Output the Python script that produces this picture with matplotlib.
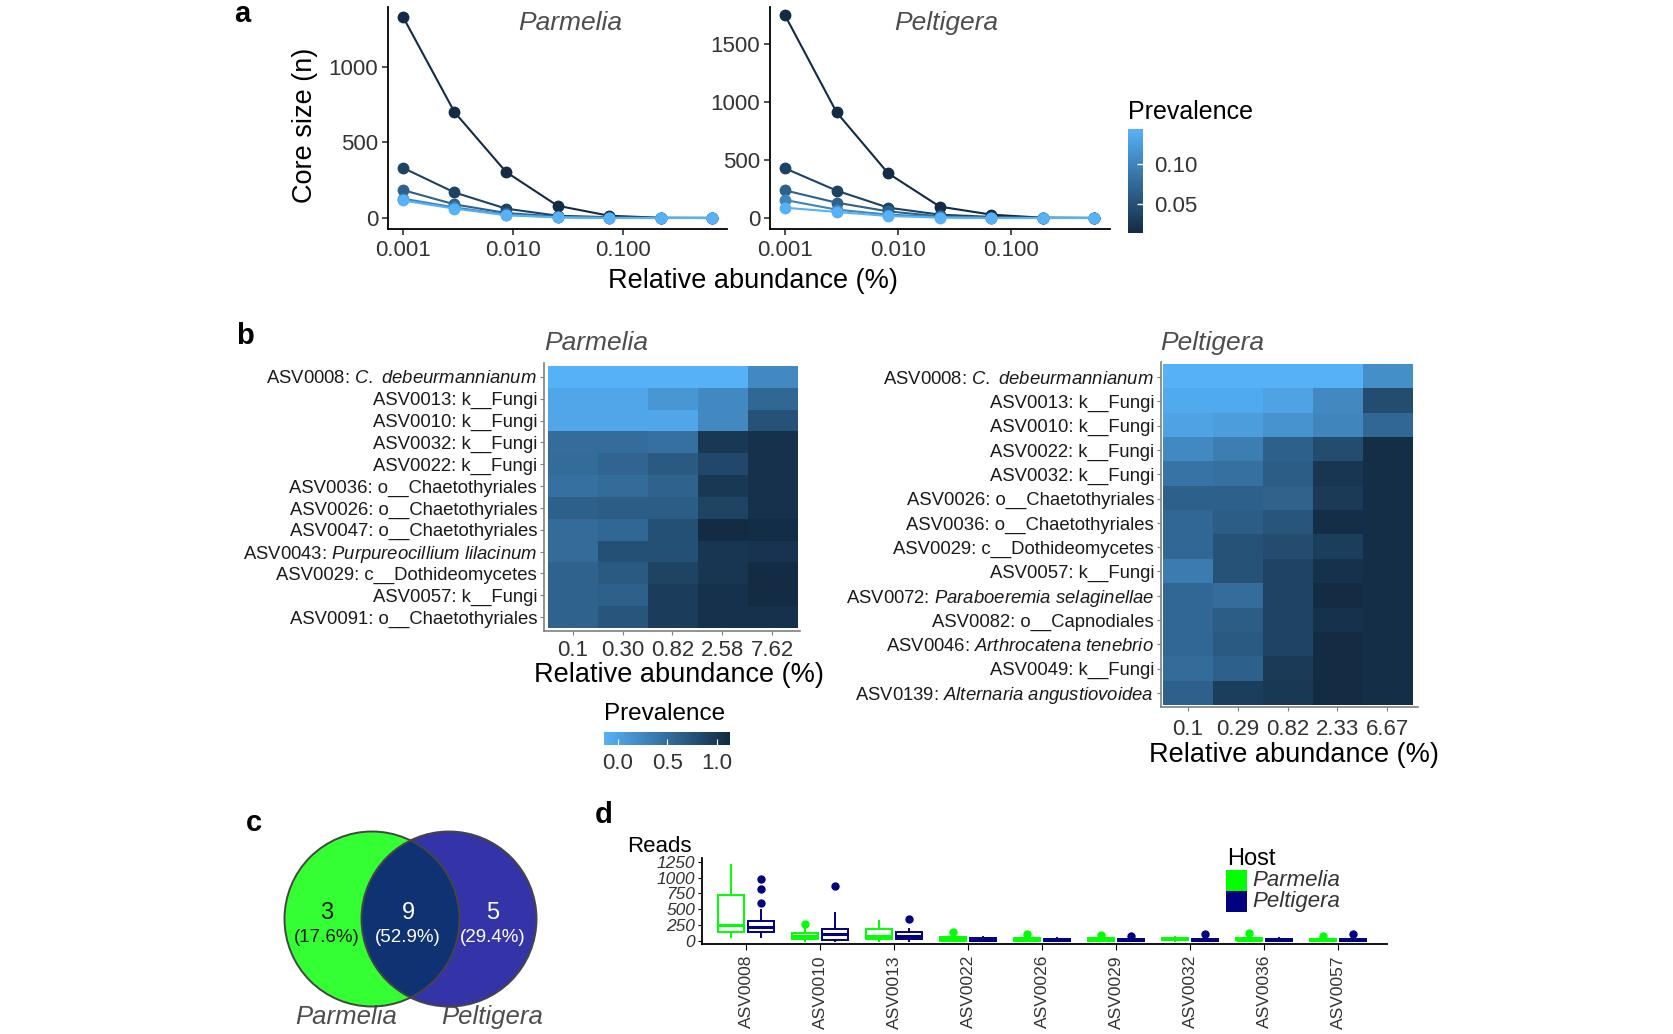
import numpy as np
import matplotlib
matplotlib.use("Agg")
import matplotlib.pyplot as plt
from matplotlib.colors import LinearSegmentedColormap, Normalize
from matplotlib.cm import ScalarMappable
from matplotlib.patches import Circle, Rectangle

plt.rcParams["font.family"] = ["Liberation Sans", "DejaVu Sans"]
plt.rcParams["mathtext.fontset"] = "custom"
plt.rcParams["mathtext.rm"] = "Liberation Sans"
plt.rcParams["mathtext.it"] = "Liberation Sans:italic"

# ---------------- data ----------------
# (a) core size vs detection threshold, one line per prevalence level
prevalence_levels = [0.014, 0.036, 0.066, 0.100, 0.144]
detection_parmelia = [0.001, 0.00294, 0.00864, 0.0254, 0.0747, 0.2197, 0.646]
detection_peltigera = [0.001, 0.00286, 0.00818, 0.0234, 0.0669, 0.191, 0.547]
core_parmelia = [
    [1332, 701, 305, 81, 15, 1, 0],
    [332, 169, 62, 15, 5, 0, 0],
    [185, 90, 33, 9, 2, 0, 0],
    [128, 70, 22, 5, 1, 0, 0],
    [116, 62, 18, 4, 0, 0, 0],
]
core_peltigera = [
    [1747, 911, 385, 98, 29, 2, 0],
    [428, 236, 89, 29, 9, 1, 0],
    [238, 132, 57, 14, 3, 0, 0],
    [155, 72, 29, 9, 1, 0, 0],
    [89, 52, 17, 3, 0, 0, 0],
]

# (b) core heatmaps
heat_det_parmelia = ["0.1", "0.30", "0.82", "2.58", "7.62"]
heat_det_peltigera = ["0.1", "0.29", "0.82", "2.33", "6.67"]
asv_parmelia = ["ASV0008", "ASV0013", "ASV0010", "ASV0032", "ASV0022", "ASV0036",
                "ASV0026", "ASV0047", "ASV0043", "ASV0029", "ASV0057", "ASV0091"]
taxon_parmelia = ["C. debeurmannianum", "k__Fungi", "k__Fungi", "k__Fungi", "k__Fungi",
                  "o__Chaetothyriales", "o__Chaetothyriales", "o__Chaetothyriales",
                  "Purpureocillium lilacinum", "c__Dothideomycetes", "k__Fungi",
                  "o__Chaetothyriales"]
species_parmelia = [True, False, False, False, False, False, False, False, True,
                    False, False, False]
prev_parmelia = [
    [0.00, 0.00, 0.00, 0.00, 0.30],
    [0.08, 0.08, 0.20, 0.30, 0.55],
    [0.08, 0.08, 0.08, 0.30, 0.70],
    [0.50, 0.50, 0.48, 0.90, 0.95],
    [0.52, 0.56, 0.65, 0.78, 0.95],
    [0.48, 0.52, 0.58, 0.90, 0.95],
    [0.60, 0.62, 0.62, 0.82, 0.95],
    [0.52, 0.55, 0.72, 1.00, 0.98],
    [0.52, 0.72, 0.72, 0.92, 0.93],
    [0.58, 0.65, 0.82, 0.92, 1.00],
    [0.58, 0.60, 0.87, 0.95, 1.00],
    [0.58, 0.68, 0.87, 0.95, 0.95],
]
asv_peltigera = ["ASV0008", "ASV0013", "ASV0010", "ASV0022", "ASV0032", "ASV0026",
                 "ASV0036", "ASV0029", "ASV0057", "ASV0072", "ASV0082", "ASV0046",
                 "ASV0049", "ASV0139"]
taxon_peltigera = ["C. debeurmannianum", "k__Fungi", "k__Fungi", "k__Fungi", "k__Fungi",
                   "o__Chaetothyriales", "o__Chaetothyriales", "c__Dothideomycetes",
                   "k__Fungi", "Paraboeremia selaginellae", "o__Capnodiales",
                   "Arthrocatena tenebrio", "k__Fungi", "Alternaria angustiovoidea"]
species_peltigera = [True, False, False, False, False, False, False, False, False,
                     True, False, True, False, True]
prev_peltigera = [
    [0.00, 0.00, 0.00, 0.00, 0.25],
    [0.05, 0.05, 0.10, 0.30, 0.75],
    [0.10, 0.15, 0.22, 0.32, 0.55],
    [0.30, 0.38, 0.60, 0.75, 0.97],
    [0.45, 0.48, 0.62, 0.92, 0.97],
    [0.60, 0.60, 0.58, 0.88, 0.97],
    [0.55, 0.62, 0.68, 0.97, 0.97],
    [0.55, 0.70, 0.75, 0.85, 0.97],
    [0.40, 0.70, 0.82, 0.95, 0.97],
    [0.55, 0.50, 0.82, 1.00, 0.97],
    [0.55, 0.62, 0.82, 0.95, 0.97],
    [0.55, 0.65, 0.82, 1.00, 0.97],
    [0.52, 0.60, 0.88, 1.00, 0.97],
    [0.60, 0.85, 0.90, 1.00, 0.97],
]

# (c) shared core taxa
venn_counts = [3, 9, 5]   # Parmelia only, shared, Peltigera only

# (d) read counts per core ASV (box statistics)
asv_reads = ["ASV0008", "ASV0010", "ASV0013", "ASV0022", "ASV0026",
             "ASV0029", "ASV0032", "ASV0036", "ASV0057"]
parm_lo = [54, 0, 0, 0, 0, 0, 0, 0, 0]
parm_q1 = [133, 22, 27, 2, 2, 1, 5, 5, 1]
parm_med = [248, 74, 80, 20, 10, 5, 20, 15, 5]
parm_q3 = [725, 117, 185, 55, 45, 40, 50, 50, 35]
parm_hi = [1198, 230, 311, 80, 60, 55, 55, 60, 45]
parm_out = [[], [270], [], [130], [100], [95], [], [115], [75]]
pelt_lo = [64, 0, 0, 0, 0, 0, 0, 0, 0]
pelt_q1 = [143, 11, 22, 2, 2, 2, 2, 2, 2]
pelt_med = [211, 100, 75, 15, 10, 10, 10, 10, 10]
pelt_q3 = [317, 185, 133, 40, 35, 35, 35, 35, 35]
pelt_hi = [486, 433, 185, 55, 45, 45, 50, 45, 55]
pelt_out = [[591, 818, 976], [865], [338], [], [], [80], [108], [], [110]]

# ---------------- figure ----------------
W, H = 1674, 1034
fig = plt.figure(figsize=(W / 100, H / 100), dpi=100)


def px_axes(x0, y0, x1, y1):
    return fig.add_axes([x0 / W, 1 - y1 / H, (x1 - x0) / W, (y1 - y0) / H])


# transparent overlay in pixel units for titles, legends and the Venn diagram
ov = px_axes(0, 0, W, H)
ov.set_xlim(0, W)
ov.set_ylim(H, 0)
ov.axis("off")
ov.set_zorder(10)

line_cmap = LinearSegmentedColormap.from_list("gg", ["#132B43", "#56B1F7"])
heat_cmap = LinearSegmentedColormap.from_list("ggr", ["#56B1F7", "#132B43"])
prev_norm = Normalize(vmin=min(prevalence_levels), vmax=max(prevalence_levels))
TICK_C = "#333333"
TITLE_C = "#4d4d4d"

# panel letters
for letter, x, y in [("a", 242, 22), ("b", 245, 344), ("c", 254, 831), ("d", 604, 823)]:
    ov.text(x, y, letter, fontsize=21, fontweight="bold", ha="center", va="baseline")


# ---------------- (a) ----------------
def core_panel(x0, x1, det, core, xlim, ylim, yticks, title, title_x):
    ax = px_axes(x0, 7, x1, 229)
    for prev, sizes in zip(prevalence_levels, core):
        c = line_cmap(prev_norm(prev))
        ax.plot(det, sizes, color=c, lw=1.5, marker="o", ms=7.5, mfc=c, mec=c,
                zorder=3, clip_on=False)
    ax.set_xscale("log")
    ax.set_xlim(*xlim)
    ax.set_ylim(*ylim)
    ax.set_xticks([0.001, 0.01, 0.1])
    ax.set_xticklabels(["0.001", "0.010", "0.100"])
    ax.xaxis.set_minor_locator(plt.NullLocator())
    ax.set_yticks(yticks)
    ax.set_yticklabels([str(v) for v in yticks])
    for s in ["top", "right"]:
        ax.spines[s].set_visible(False)
    for s in ["left", "bottom"]:
        ax.spines[s].set_linewidth(1.3)
    ax.tick_params(length=4, width=1.2, labelsize=16, labelcolor=TICK_C, color=TICK_C)
    ax.tick_params(axis="x", pad=4)
    ax.tick_params(axis="y", pad=3)
    ov.text(title_x, 30, title, fontsize=19, style="italic", color=TITLE_C,
            ha="center", va="baseline")
    return ax


core_panel(388, 727, detection_parmelia, core_parmelia,
           (10 ** -3.136, 10 ** -0.0545), (-73, 1397), [0, 500, 1000], "Parmelia", 570)
core_panel(770, 1110, detection_peltigera, core_peltigera,
           (10 ** -3.133, 10 ** -0.124), (-95, 1819), [0, 500, 1000, 1500], "Peltigera", 946)

ov.text(305, 125, "Core size (n)", fontsize=19.5, rotation=90, ha="center", va="center")
ov.text(753, 281, "Relative abundance (%)", fontsize=19.5, ha="center", va="center")

# colorbar for (a)
cax = px_axes(1128, 129, 1143, 233)
cb = fig.colorbar(ScalarMappable(norm=prev_norm, cmap=line_cmap), cax=cax)
cb.outline.set_visible(False)
cb.set_ticks([0.05, 0.10])
cb.set_ticklabels(["0.05", "0.10"])
cax.tick_params(color="white", direction="in", length=4, width=1, labelsize=16,
                labelcolor=TICK_C, pad=8)
ov.text(1128, 112, "Prevalence", fontsize=18, ha="left", va="center")


# ---------------- (b) ----------------
def make_label(asv, taxon, is_species):
    if is_species:
        return asv + ": $\\mathit{" + taxon.replace(" ", "\\ ") + "}$"
    return asv + ": " + taxon


def heat_panel(rect, xlim, ylim, vals, asvs, taxa, species, det_labels, xpad,
               title, title_x):
    ax = px_axes(*rect)
    ax.imshow(np.array(vals), cmap=heat_cmap, vmin=0, vmax=1, aspect="auto",
              interpolation="nearest")
    ax.set_xlim(*xlim)
    ax.set_ylim(*ylim)
    ax.set_yticks(range(len(asvs)))
    ax.set_yticklabels([make_label(a, t, s) for a, t, s in zip(asvs, taxa, species)])
    ax.set_xticks(range(len(det_labels)))
    ax.set_xticklabels(det_labels)
    for s in ["top", "right"]:
        ax.spines[s].set_visible(False)
    for s in ["left", "bottom"]:
        ax.spines[s].set_color("#7f7f7f")
        ax.spines[s].set_linewidth(1.2)
    ax.tick_params(axis="y", length=3, color="#7f7f7f", labelsize=13.3,
                   labelcolor="#1a1a1a", pad=2)
    ax.tick_params(axis="x", length=3, color="#7f7f7f", labelsize=16,
                   labelcolor=TICK_C, pad=xpad)
    ov.text(title_x, 350, title, fontsize=19, style="italic", color=TITLE_C,
            ha="left", va="baseline")
    return ax


heat_panel((544, 363, 800, 631), (-0.58, 4.56), (11.64, -0.64), prev_parmelia,
           asv_parmelia, taxon_parmelia, species_parmelia, heat_det_parmelia, 3.5,
           "Parmelia", 544)
heat_panel((1161, 362, 1418, 707), (-0.54, 4.62), (13.58, -0.62), prev_peltigera,
           asv_peltigera, taxon_peltigera, species_peltigera, heat_det_peltigera, 5.5,
           "Peltigera", 1160)

ov.text(679, 675, "Relative abundance (%)", fontsize=19.5, ha="center", va="center")
ov.text(1294, 755, "Relative abundance (%)", fontsize=19.5, ha="center", va="center")

# colorbar for (b)
hcax = px_axes(604, 732, 730, 745)
hcax.imshow(np.linspace(0, 1, 256)[None, :], cmap=heat_cmap, aspect="auto",
            extent=[-0.14, 1.13, 0, 1])
hcax.set_xlim(-0.14, 1.13)
hcax.set_yticks([])
hcax.set_xticks([0, 0.5, 1.0])
hcax.set_xticklabels(["0.0", "0.5", "1.0"])
for s in hcax.spines.values():
    s.set_visible(False)
hcax.tick_params(axis="x", color="white", direction="in", length=4, labelsize=16,
                 labelcolor=TICK_C, pad=6)
ov.text(665, 714, "Prevalence", fontsize=17.5, ha="center", va="center")

# ---------------- (c) Venn ----------------
total = sum(venn_counts)
gcx, bcx, vcy, rad = 372, 449, 919, 87.5
green_c = Circle((gcx, vcy), rad, facecolor="#33FF33", edgecolor="none", zorder=1)
blue_c = Circle((bcx, vcy), rad, facecolor="#3434A8", edgecolor="none", zorder=2)
ov.add_patch(green_c)
ov.add_patch(blue_c)
overlap = Circle((bcx, vcy), rad, facecolor="#0F3272", edgecolor="none", zorder=3)
ov.add_patch(overlap)
overlap.set_clip_path(green_c)
for cx in (gcx, bcx):
    ov.add_patch(Circle((cx, vcy), rad, facecolor="none", edgecolor="#454545",
                        lw=1.4, zorder=4))
for n, x, col in zip(venn_counts, [327, 408, 493], ["#1a1a1a", "white", "white"]):
    ov.text(x, 913, str(n), fontsize=17, color=col, ha="center", va="center", zorder=5)
    ov.text(x, 937, "(%.1f%%)" % (100.0 * n / total), fontsize=13.5, color=col,
            ha="center", va="center", zorder=5)
ov.text(346, 1024, "Parmelia", fontsize=18.5, style="italic", color=TITLE_C,
        ha="center", va="baseline")
ov.text(492, 1024, "Peltigera", fontsize=18.5, style="italic", color=TITLE_C,
        ha="center", va="baseline")

# ---------------- (d) boxplots ----------------
GREEN, NAVY = "#00FF00", "#000080"
axd = px_axes(702, 858, 1387, 944)


def box_stats(lo, q1, med, q3, hi, out):
    return [dict(whislo=a, q1=b, med=c, q3=d, whishi=e, fliers=f)
            for a, b, c, d, e, f in zip(lo, q1, med, q3, hi, out)]


pos = np.arange(len(asv_reads))
for stats, off, col in [
    (box_stats(parm_lo, parm_q1, parm_med, parm_q3, parm_hi, parm_out), -0.2, GREEN),
    (box_stats(pelt_lo, pelt_q1, pelt_med, pelt_q3, pelt_hi, pelt_out), 0.2, NAVY),
]:
    axd.bxp(stats, positions=pos + off, widths=0.35, patch_artist=True,
            showcaps=False,
            boxprops=dict(facecolor="white", edgecolor=col, linewidth=1.4),
            medianprops=dict(color=col, linewidth=2.2),
            whiskerprops=dict(color=col, linewidth=1.4),
            flierprops=dict(marker="o", markerfacecolor=col, markeredgecolor=col,
                            markersize=5))
axd.set_xlim(-0.595, 8.66)
axd.set_ylim(-52, 1309)
axd.set_xticks(pos)
axd.set_xticklabels(asv_reads, rotation=90, fontsize=12.5, color=TICK_C)
axd.set_yticks([0, 250, 500, 750, 1000, 1250])
axd.set_yticklabels(["0", "250", "500", "750", "1000", "1250"], fontsize=12.5,
                    style="italic", color=TICK_C)
for s in ["top", "right"]:
    axd.spines[s].set_visible(False)
for s in ["left", "bottom"]:
    axd.spines[s].set_linewidth(1.3)
axd.tick_params(axis="y", length=3, pad=2)
axd.tick_params(axis="x", length=4, pad=4)
ov.text(627, 852, "Reads", fontsize=16, ha="left", va="baseline")

# legend (d)
ov.text(1227, 865, "Host", fontsize=17, ha="left", va="baseline")
for col, y0, lab in [(GREEN, 870, "Parmelia"), (NAVY, 891, "Peltigera")]:
    ov.add_patch(Rectangle((1226, y0), 21, 21, facecolor=col, edgecolor="none"))
    ov.text(1252, y0 + 10.5, lab, fontsize=16, style="italic", color=TICK_C,
            ha="left", va="center")

fig.savefig("out.png", dpi=100)
